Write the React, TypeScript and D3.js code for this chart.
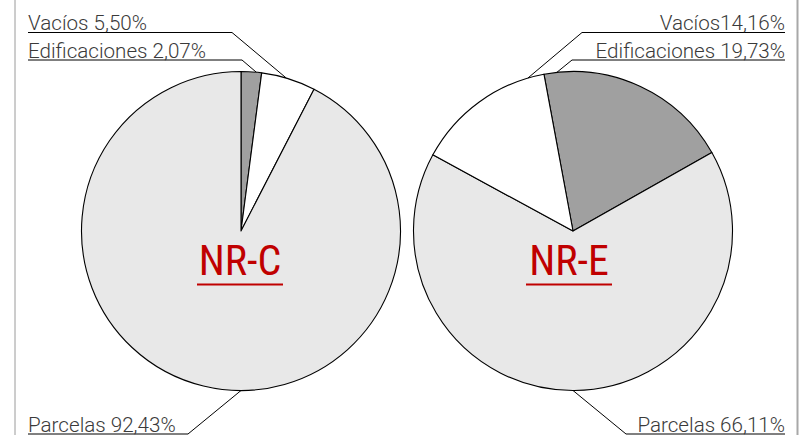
import React from "react";
import * as d3 from "d3";

const categories = ["Edificaciones", "Vacíos", "Parcelas"];
const nrcValues = [2.07, 5.5, 92.43];
const nreValues = [19.73, 14.16, 66.11];
const nrcLabels = ["Edificaciones 2,07%", "Vacíos 5,50%", "Parcelas 92,43%"];
const nreLabels = ["Edificaciones 19,73%", "Vacíos14,16%", "Parcelas 66,11%"];
const sliceColors = ["#a0a0a0", "#ffffff", "#e8e8e8"];
const chartTitles = ["NR-C", "NR-E"];

const W = 805;
const H = 435;
const R = 159.5;

type PieCfg = {
  title: string;
  values: number[];
  labels: string[];
  order: number[];
  cx: number;
  cy: number;
  start: number; // degrees
  side: "left" | "right";
  anchorDeg: number[];
  elbow: [number, number][];
  textX: number;
  titleX: number;
};

const rad = (d: number) => (d * Math.PI) / 180;

const pies: PieCfg[] = [
  {
    title: chartTitles[0],
    values: nrcValues,
    labels: nrcLabels,
    order: [0, 1, 2],
    cx: 241,
    cy: 231,
    start: 0,
    side: "left",
    anchorDeg: [5.5, 16.5, 180],
    elbow: [
      [242, 60],
      [232, 32.5],
      [188, 434],
    ],
    textX: 28,
    titleX: 240,
  },
  {
    title: chartTitles[1],
    values: nreValues,
    labels: nreLabels,
    order: [0, 2, 1],
    cx: 573,
    cy: 231,
    start: -10.5,
    side: "right",
    anchorDeg: [-5.8, -16.4, 180],
    elbow: [
      [572, 60],
      [582, 32.5],
      [626, 434],
    ],
    textX: 785,
    titleX: 569,
  },
];

function Pie({ cfg }: { cfg: PieCfg }) {
  const items = cfg.order.map((i) => ({ i, v: cfg.values[i] }));
  const pie = d3
    .pie<{ i: number; v: number }>()
    .value((d) => d.v)
    .sort(null)
    .startAngle(rad(cfg.start))
    .endAngle(rad(cfg.start) + Math.PI * 2);
  const arcs = pie(items);
  const arcGen = d3
    .arc<d3.PieArcDatum<{ i: number; v: number }>>()
    .innerRadius(0)
    .outerRadius(R);
  return (
    <g>
      <g transform={`translate(${cfg.cx},${cfg.cy})`}>
        {arcs.map((a) => (
          <path
            key={a.data.i}
            d={arcGen(a) || ""}
            fill={sliceColors[a.data.i]}
            stroke="#000"
            strokeWidth={1.1}
            strokeLinejoin="round"
          />
        ))}
      </g>
      {categories.map((c, i) => {
        const ang = rad(cfg.anchorDeg[i]);
        const px = cfg.cx + R * Math.sin(ang);
        const py = cfg.cy - R * Math.cos(ang);
        const [ex, ey] = cfg.elbow[i];
        const tx = cfg.textX;
        return (
          <g key={c}>
            <polyline
              points={`${px},${py} ${ex},${ey} ${tx},${ey}`}
              fill="none"
              stroke="#000"
              strokeWidth={1}
            />
            <text
              x={tx}
              y={ey - 2.5}
              textAnchor={cfg.side === "left" ? "start" : "end"}
              fontFamily="Roboto, 'Liberation Sans', sans-serif"
              fontWeight={300}
              fontSize={20.6}
              fill="#3a3a3a"
            >
              {cfg.labels[i]}
            </text>
          </g>
        );
      })}
      <text
        x={cfg.titleX}
        y={275}
        textAnchor="middle"
        fontFamily="'Liberation Sans Narrow', 'Arial Narrow', 'Roboto Condensed', sans-serif"
        fontSize={42}
        fill="#c00000"
      >
        {cfg.title}
      </text>
      <line
        x1={cfg.titleX - 43}
        x2={cfg.titleX + 43}
        y1={284.5}
        y2={284.5}
        stroke="#c00000"
        strokeWidth={2}
      />
    </g>
  );
}

export default function App() {
  return (
    <svg
      width={W}
      height={H}
      viewBox={`0 0 ${W} ${H}`}
      style={{ position: "absolute", left: 0, top: 0, background: "#fff" }}
    >
      <rect x={0} y={0} width={W} height={H} fill="#fff" />
      <line x1={15} x2={15} y1={0} y2={H} stroke="#9a9a9a" strokeWidth={1} />
      <line x1={797.5} x2={797.5} y1={0} y2={H} stroke="#a8a8a8" strokeWidth={2} />
      {pies.map((p) => (
        <Pie key={p.title} cfg={p} />
      ))}
    </svg>
  );
}
